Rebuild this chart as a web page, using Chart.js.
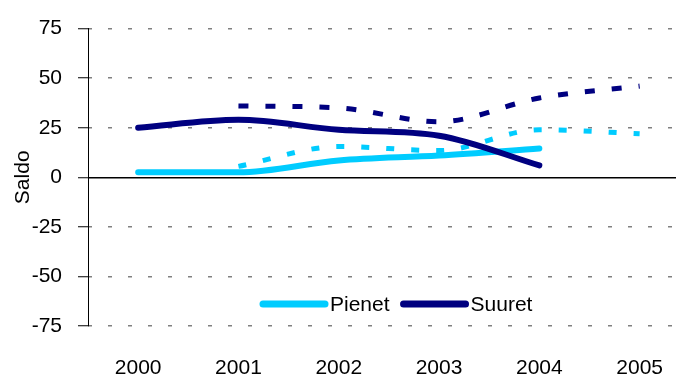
<!DOCTYPE html>
<html>
<head>
<meta charset="utf-8">
<script src="https://cdn.jsdelivr.net/npm/chart.js@4.4.1/dist/chart.umd.min.js"></script>
<style>
  html, body { margin: 0; padding: 0; background: #fff; }
  #wrap { width: 693px; height: 380px; }
</style>
</head>
<body>
<div id="wrap"><canvas id="saldoChart" width="693" height="380"></canvas></div>
<script>
// vuodet ja saldot
const years = [2000, 2001, 2002, 2003, 2004, 2005];
const pienet = [2.5, 2.5, 8.5, 11, 14.5, null];
const suuret = [25, 29, 24, 21, 6, null];
const pienetEnnuste = [null, 5.5, 15.5, 13.5, 24, 22];
const suuretEnnuste = [null, 36, 35, 28, 40, 46];
const yTicks = [-75, -50, -25, 0, 25, 50, 75];
const legendNames = ['Pienet', 'Suuret'];

const LIGHT = '#00CCFF';
const NAVY = '#000080';
const FONT = 'Liberation Sans, Arial, sans-serif';

function toPoints(arr) {
  return years.map((y, i) => ({x: y, y: arr[i]})).filter(p => p.y !== null);
}

// legend drawn inside the plot, only the solid series
const innerLegend = {
  id: 'innerLegend',
  afterDraw(chart) {
    const {ctx, chartArea} = chart;
    const y = chartArea.bottom - 22;
    let x = chartArea.left + 175;
    ctx.save();
    ctx.font = '21px ' + FONT;
    ctx.textBaseline = 'middle';
    ctx.fillStyle = '#000';
    legendNames.forEach(name => {
      const d = chart.data.datasets.find(ds => ds.label === name);
      ctx.strokeStyle = d.borderColor;
      ctx.lineWidth = 7;
      ctx.lineCap = 'round';
      ctx.beginPath();
      ctx.moveTo(x, y);
      ctx.lineTo(x + 62, y);
      ctx.stroke();
      x += 67;
      ctx.fillText(d.label, x, y + 1);
      x += ctx.measureText(d.label).width + 14;
    });
    ctx.restore();
  }
};

const ctx = document.getElementById('saldoChart').getContext('2d');
const chart = new Chart(ctx, {
  type: 'line',
  data: {
    datasets: [
      {label: 'Suuret', data: toPoints(suuret), borderColor: NAVY, borderWidth: 6,
       borderCapStyle: 'round', cubicInterpolationMode: 'monotone', pointRadius: 0, fill: false},
      {label: 'Pienet', data: toPoints(pienet), borderColor: LIGHT, borderWidth: 6,
       borderCapStyle: 'round', cubicInterpolationMode: 'monotone', pointRadius: 0, fill: false},
      {label: 'Suuret ennuste', data: toPoints(suuretEnnuste), borderColor: NAVY, borderWidth: 5,
       borderDash: [10, 17], borderCapStyle: 'butt', cubicInterpolationMode: 'monotone', pointRadius: 0, fill: false},
      {label: 'Pienet ennuste', data: toPoints(pienetEnnuste), borderColor: LIGHT, borderWidth: 5,
       borderDash: [8, 17], borderCapStyle: 'butt', cubicInterpolationMode: 'monotone', pointRadius: 0, fill: false}
    ]
  },
  options: {
    responsive: false,
    animation: false,
    layout: {padding: {top: 28, left: 0, right: 0, bottom: 0}},
    plugins: {legend: {display: false}, tooltip: {enabled: false}},
    scales: {
      x: {
        type: 'linear',
        min: 1999.5,
        max: 1999.5 + 605 / 103.2,
        afterBuildTicks: s => { s.ticks = years.map(v => ({value: v})); },
        afterFit: s => { s.height = 54; },
        grid: {display: false, drawTicks: false},
        border: {display: false},
        ticks: {color: '#000', font: {family: FONT, size: 21}, padding: 30,
                callback: v => String(v), maxRotation: 0, autoSkip: false}
      },
      y: {
        min: -75,
        max: 75,
        afterBuildTicks: s => { s.ticks = yTicks.map(v => ({value: v})); },
        afterFit: s => { s.width = 88; },
        title: {display: true, text: 'Saldo', color: '#000',
                font: {family: FONT, size: 21}, padding: {top: 11, bottom: 0}},
        ticks: {color: '#000', font: {family: FONT, size: 21}, padding: 16},
        grid: {
          color: c => c.tick && c.tick.value === 0 ? '#000' : '#808080',
          lineWidth: 1.5,
          tickColor: '#000',
          tickWidth: 1,
          tickLength: 10,
          tickBorderDash: []
        },
        border: {
          display: true, color: '#000', width: 1,
          dash: c => c.tick && c.tick.value === 0 ? [] : [4, 16],
          dashOffset: 1
        }
      }
    }
  },
  plugins: [innerLegend]
});
</script>
</body>
</html>
